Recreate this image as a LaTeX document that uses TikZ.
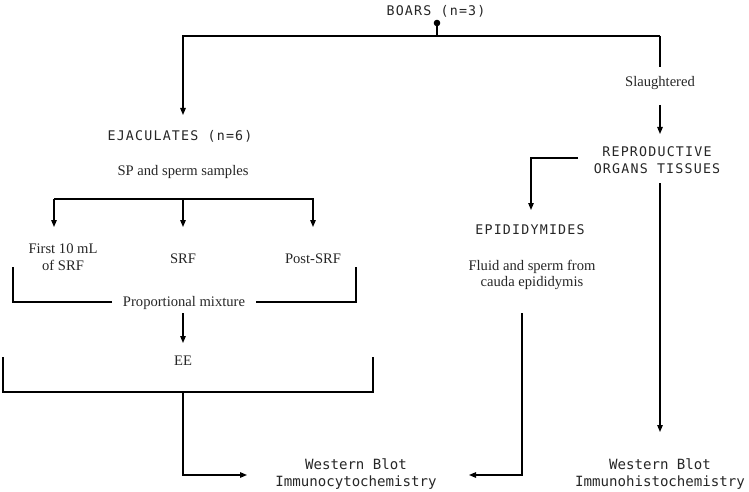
\documentclass[tikz,border=0pt]{standalone}
\usepackage{fontspec}
\setmainfont{Liberation Serif}
\newfontfamily\headfont[LetterSpace=9]{DejaVu Sans Mono}
\newfontfamily\monofont{DejaVu Sans Mono}
\usetikzlibrary{arrows.meta}
\begin{document}
\begin{tikzpicture}[x=1pt,y=-1pt,
  line width=1.2pt,
  arr/.style={-{Triangle[length=7pt,width=5.5pt]}},
  head/.style={font=\headfont\fontsize{13.3}{17.5}\selectfont\color{black!85}, inner sep=0pt, align=center},
  res/.style={font=\monofont\fontsize{14.1}{17}\selectfont\color{black!85}, inner sep=0pt, align=center},
  lab/.style={font=\fontsize{14.6}{16.5}\selectfont\color{black!85}, inner sep=0pt, align=center}]
\useasboundingbox (0,0) rectangle (749,492);
% nodes
\node[head] (boars) at (436,11) {BOARS (n=3)};
\coordinate (dot) at (437,23);
\coordinate (tl) at (183,36);
\coordinate (tr) at (660,36);
\node[head] (ejac) at (180,136) {EJACULATES (n=6)};
\node[lab] (sp) at (183,172) {SP and sperm samples};
\node[lab] (slaug) at (660,83) {Slaughtered};
\node[head] (repro) at (657,160) {REPRODUCTIVE\\ORGANS TISSUES};
\node[head] (epid) at (530,230) {EPIDIDYMIDES};
\node[lab] (fluid) at (532,275) {Fluid and sperm from\\cauda epididymis};
\node[lab] (first) at (63,257) {First 10 mL\\of SRF};
\node[lab] (srf) at (183,259) {SRF};
\node[lab] (post) at (313,259) {Post-SRF};
\node[lab] (prop) at (184,303) {Proportional mixture};
\node[lab] (ee) at (183,361) {EE};
\node[res] (wbicc) at (356,474) {Western Blot\\Immunocytochemistry};
\node[res] (wbihc) at (660,474) {Western Blot\\Immunohistochemistry};
% top
\fill (dot) circle (3.3pt);
\draw (dot) -- (437,36);
\draw[arr] (tr) -- (tl) -- (183,115);
\draw (tr) -- (660,67);
\draw[arr] (660,105) -- (660,134);
% ejaculates split
\coordinate (sl) at (54,199);
\coordinate (sr) at (313,199);
\draw[arr] (sl) -- (54,227);
\draw[arr] (183,199) -- (183,227);
\draw[arr] (sl) -- (sr) -- (313,227);
% proportional bracket
\draw (112,302) -- (13,302) -- (13,267);
\draw (256,302) -- (356,302) -- (356,267);
\draw[arr] (183,313) -- (183,343);
% EE bracket
\draw (3,357) -- (3,392) -- (373,392) -- (373,357);
\draw[arr] (183,392) -- (183,475) -- (247,475);
% epididymides path
\draw[arr] (578,158) -- (531,158) -- (531,210);
\draw[arr] (522,313) -- (522,475) -- (469,475);
% right long
\draw[arr] (660,183) -- (660,432);
\end{tikzpicture}
\end{document}
